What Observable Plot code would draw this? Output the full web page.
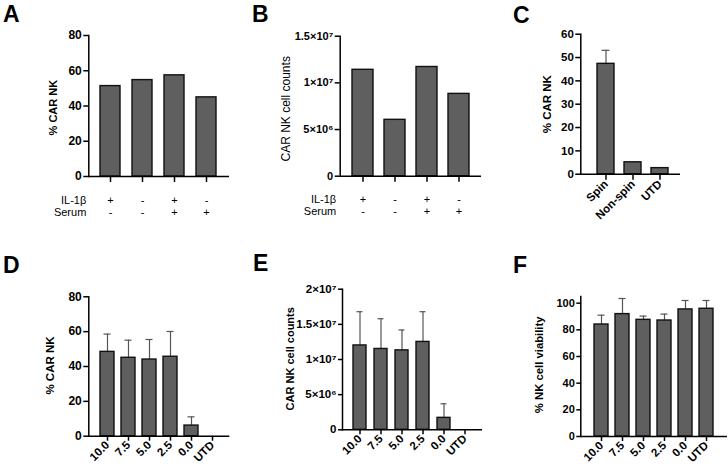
<!DOCTYPE html>
<html>
<head>
<meta charset="utf-8">
<script src="https://cdn.jsdelivr.net/npm/d3@7"></script>
<script src="https://cdn.jsdelivr.net/npm/@observablehq/plot@0.6"></script>
<style>
  body { margin: 0; background: #fff; }
  #fig { position: relative; width: 728px; height: 469px; overflow: hidden; background: #fff; }
  .panel { position: absolute; }
  .tag { position: absolute; font: bold 23px "Liberation Sans", Arial, Helvetica, sans-serif; line-height: normal; color: #000; }
</style>
</head>
<body>
<div id="fig"></div>
<script>
// A, B: IL-1β / serum conditions
const il1bSigns = ["+", "-", "+", "-"];
const serumSigns = ["-", "-", "+", "+"];
const carPctA = [51.3, 54.7, 57.4, 44.9];
const carCountB = [11.4e6, 6.04e6, 11.7e6, 8.82e6];

// C: transduction method
const methodsC = ["Spin", "Non-spin", "UTD"];
const carPctC = [47.3, 5.1, 2.6];
const carPctSdC = [5.8, 0, 0];

// D, E, F: dose series
const doses = ["10.0", "7.5", "5.0", "2.5", "0.0", "UTD"];
const carPctD = [48.4, 45.0, 44.0, 45.6, 6.1, 0];
const carPctSdD = [10.2, 10.1, 11.5, 14.5, 5.0, 0];
const carCountE = [12.0e6, 11.5e6, 11.3e6, 12.5e6, 1.7e6, 0];
const carCountSdE = [4.8e6, 4.3e6, 2.9e6, 4.3e6, 2.0e6, 0];
const viabilityF = [84.0, 91.8, 87.5, 87.0, 95.3, 95.8];
const viabilitySdF = [7.0, 11.7, 2.8, 4.8, 6.7, 6.2];

// y tick values and labels
const pctTicks80 = [0, 20, 40, 60, 80];
const pctTicks60 = [0, 10, 20, 30, 40, 50, 60];
const pctTicks100 = [0, 20, 40, 60, 80, 100];
const countTicksB = [0, 5e6, 1e7, 1.5e7];
const countTickLabelsB = ["0", "5×10⁶", "1×10⁷", "1.5×10⁷"];
const countTicksE = [0, 5e6, 1e7, 1.5e7, 2e7];
const countTickLabelsE = ["0", "5×10⁶", "1×10⁷", "1.5×10⁷", "2×10⁷"];

const FONT = '"Liberation Sans", Arial, Helvetica, sans-serif';
const BAR_FILL = "#5f5f5f";
const BAR_STROKE = "#111";
const ERR_STROKE = "#555";

const fig = document.getElementById("fig");

function barPanel(cfg) {
  const rows = cfg.keys.map((k, i) => ({
    key: k,
    value: cfg.values[i],
    err: cfg.errors ? cfg.errors[i] : 0
  }));
  const withErr = rows.filter(d => d.err > 0);
  const labelFor = cfg.yTickLabels
    ? (v => cfg.yTickLabels[cfg.yTicks.indexOf(v)])
    : (v => String(v));

  const marks = [
    Plot.ruleX(withErr, {x: "key", y1: "value", y2: d => d.value + d.err, stroke: ERR_STROKE, strokeWidth: 1.2}),
    Plot.tickY(withErr, {x: "key", y: d => d.value + d.err, stroke: ERR_STROKE, strokeWidth: 1.2, insetLeft: cfg.capInset, insetRight: cfg.capInset}),
    Plot.barY(rows, {x: "key", y: "value", fill: BAR_FILL, stroke: BAR_STROKE, strokeWidth: 1.4}),
    Plot.ruleY([0], {stroke: "#000", strokeWidth: 1.5}),
    Plot.frame({anchor: "left", stroke: "#000", strokeWidth: 1.5}),
    Plot.axisY({
      ticks: cfg.yTicks, tickFormat: labelFor, tickSize: cfg.yTickSize ?? 5, tickPadding: 2,
      stroke: "#000", strokeWidth: 1.5, label: null
    }),
    cfg.xLabels
      ? Plot.axisX({
          tickSize: cfg.xTickSize ?? 5, tickPadding: 2, tickRotate: -45, tickFormat: d => d,
          stroke: "#000", strokeWidth: 1.5, fontSize: cfg.xTickFont, label: null
        })
      : Plot.axisX({tickSize: cfg.xTickSize ?? 6, tickFormat: () => "", stroke: "#000", strokeWidth: 1.5, label: null}),
    Plot.text([cfg.yLabel], {
      text: d => d, frameAnchor: "left", textAnchor: "middle", rotate: -90, dx: cfg.labelDx, dy: cfg.labelDy,
      fontSize: cfg.labelFont, fontWeight: cfg.labelWeight ?? "bold", fill: "#000"
    })
  ];

  if (cfg.table) {
    for (const [name, signs, dy] of cfg.table) {
      marks.push(Plot.text(rows, {x: "key", text: (d, i) => signs[i], frameAnchor: "bottom", dy, fontSize: 11, fontWeight: "normal", fill: "#000"}));
      marks.push(Plot.text([name], {text: d => d, frameAnchor: "bottom-left", textAnchor: "end", dx: cfg.tableDx, dy, fontSize: 11, fontWeight: "normal", fill: "#000"}));
    }
  }

  const svg = Plot.plot({
    width: cfg.width, height: cfg.height,
    marginLeft: cfg.m[0], marginRight: cfg.m[1], marginTop: cfg.m[2], marginBottom: cfg.m[3],
    style: {fontFamily: FONT, fontSize: cfg.tickFont + "px", fontWeight: "bold", color: "#000", background: "transparent", overflow: "visible"},
    x: {type: "band", domain: cfg.keys, paddingInner: cfg.pIn, paddingOuter: cfg.pOut, align: cfg.align ?? 0.5},
    y: {domain: cfg.yDomain},
    marks
  });
  svg.classList.add("panel");
  svg.style.left = cfg.left + "px";
  svg.style.top = cfg.top + "px";
  svg.style.maxWidth = "none";
  fig.appendChild(svg);
}

function tag(letter, left, top) {
  const el = document.createElement("div");
  el.className = "tag";
  el.textContent = letter;
  el.style.left = left + "px";
  el.style.top = top + "px";
  fig.appendChild(el);
}

const keysAB = il1bSigns.map((s, i) => `${s}/${serumSigns[i]}`);
const table = [["IL-1β", il1bSigns, 27], ["Serum", serumSigns, 39]];

// A
barPanel({
  left: 0, top: 0, width: 243, height: 230, m: [88.3, 14, 35, 54],
  keys: keysAB, values: carPctA, pIn: 0.36, pOut: 0.36,
  yDomain: [0, 80], yTicks: pctTicks80, tickFont: 12,
  yLabel: "% CAR NK", labelDx: -35.3, labelDy: 1.6, labelFont: 11,
  table, tableDx: -2.5
});

// B
barPanel({
  left: 243, top: 0, width: 243, height: 230, m: [96.7, 5, 35.7, 54.3],
  keys: keysAB, values: carCountB, pIn: 0.35, pOut: 0.36,
  yDomain: [0, 1.5e7], yTicks: countTicksB, yTickLabels: countTickLabelsB, tickFont: 11,
  yLabel: "CAR NK cell counts", labelDx: -53.9, labelDy: 2.6, labelFont: 12, labelWeight: "normal",
  table, tableDx: -4
});

// C
barPanel({
  left: 486, top: 0, width: 242, height: 230, m: [94.3, 48, 33.7, 56.3],
  keys: methodsC, values: carPctC, errors: carPctSdC, capInset: 4.5,
  pIn: 0.355, pOut: 0.464, align: 0.6,
  yDomain: [0, 60], yTicks: pctTicks60, tickFont: 11.5,
  yLabel: "% CAR NK", labelDx: -33.3, labelDy: 0, labelFont: 11.5,
  xLabels: true, xTickFont: 11.5, xTickSize: 6
});

// D
barPanel({
  left: 0, top: 230, width: 243, height: 239, m: [88.3, 13.7, 66.3, 33.3],
  keys: doses, values: carPctD, errors: carPctSdD, capInset: 3.5,
  pIn: 0.354, pOut: 0.385,
  yDomain: [0, 80], yTicks: pctTicks80, tickFont: 12,
  yLabel: "% CAR NK", labelDx: -38.3, labelDy: -1, labelFont: 11.5,
  xLabels: true, xTickFont: 11.5
});

// E
barPanel({
  left: 243, top: 230, width: 243, height: 239, m: [99, 4, 58.7, 39.7],
  keys: doses, values: carCountE, errors: carCountSdE, capInset: 3.5,
  pIn: 0.364, pOut: 0.364,
  yDomain: [0, 2e7], yTicks: countTicksE, yTickLabels: countTickLabelsE, tickFont: 11.5, yTickSize: 4,
  yLabel: "CAR NK cell counts", labelDx: -52.3, labelDy: -0.7, labelFont: 11,
  xLabels: true, xTickFont: 11.5
});

// F
barPanel({
  left: 486, top: 230, width: 242, height: 239, m: [94.3, 1, 66, 33],
  keys: doses, values: viabilityF, errors: viabilitySdF, capInset: 3.5,
  pIn: 0.33, pOut: 0.5,
  yDomain: [0, 105], yTicks: pctTicks100, tickFont: 11, yTickSize: 4,
  yLabel: "% NK cell viability", labelDx: -41, labelDy: -1.7, labelFont: 11.3,
  xLabels: true, xTickFont: 11.5
});

tag("A", 3, 1);
tag("B", 252, 1);
tag("C", 513, 2);
tag("D", 3, 252);
tag("E", 253, 250);
tag("F", 513, 252);
</script>
</body>
</html>
